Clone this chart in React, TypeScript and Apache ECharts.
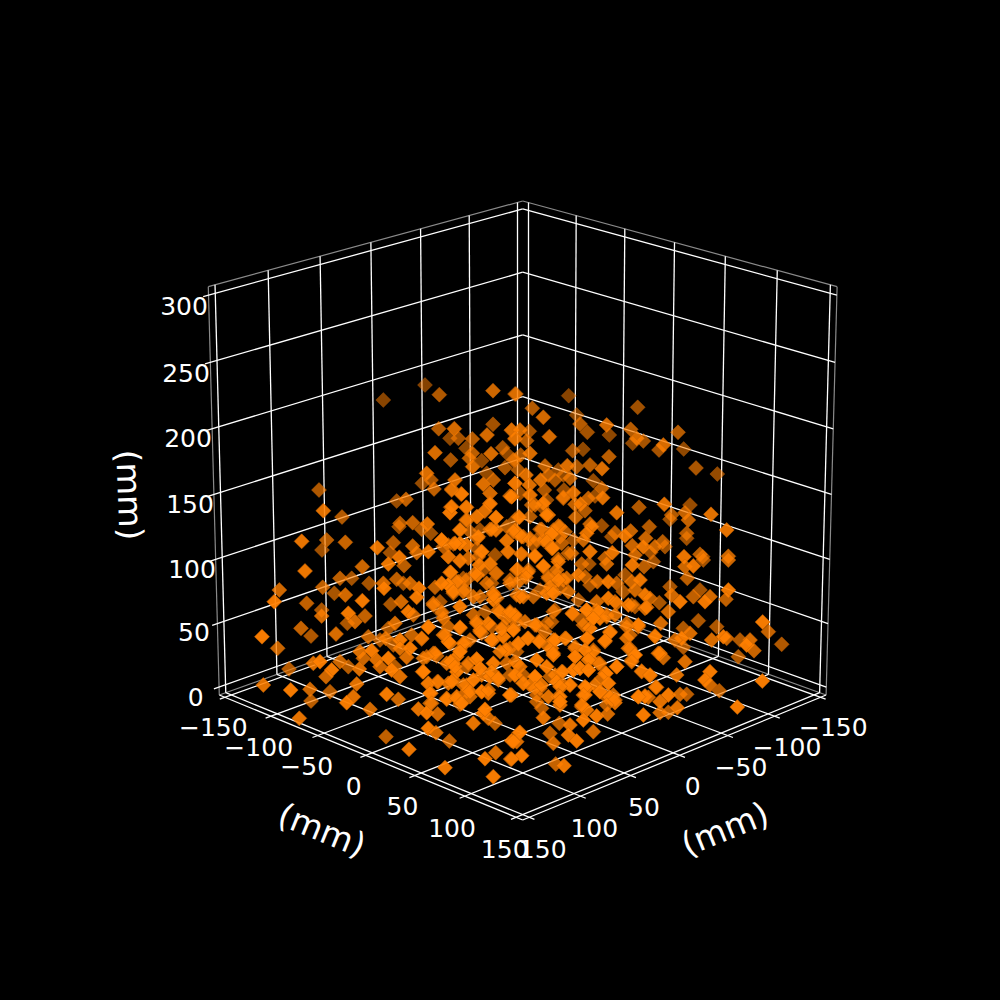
import React, { useEffect, useRef } from "react";
import * as echarts from "echarts";

// Scatter readings: projected marks, one list per inspected region.
const regionNW = [555,45,598,74,759,62,825,72,430,90,596,176,643,176,655,205,630,205,697,207,741,195,759,163,814,181,825,207,585,248,632,270,678,235,697,250,753,251,788,233,725,272,688,265,698,290,795,293,800,250,820,270,560,310,573,330,547,340,582,357,645,330,635,357,740,310,760,330,730,343,663,372,750,370,825,340,815,380,237,360,470,393,498,388,250,422,306,441,632,412,630,428,678,412,750,400,735,423,710,440,768,442,480,460,477,470,518,458,562,462,545,478,572,490,682,450,660,480,690,485,720,480,750,478,768,480,800,470,825,450,830,490,185,514,260,510,246,540,316,517,412,533,460,518,451,548,518,528,605,510,610,530,640,522,660,520,680,525,712,505,800,512,530,548,565,545,625,560,660,573,685,565,725,545,715,560,765,555,803,545,478,562];
const regionSW = [195,33,300,55,335,55,367,20,445,12,492,17,387,70,430,70,432,85,470,58,490,70,510,70,537,85,585,82,630,37,655,65,625,75,680,60,640,100,670,95,712,45,750,12,770,40,740,70,760,100,810,60,830,70,118,90,103,125,248,82,283,100,316,105,367,122,200,130,452,133,483,125,530,112,580,130,600,125,700,110,760,120,770,115,245,150,245,168,325,160,375,168,322,190,345,185,505,155,520,165,605,160,610,175,660,140,700,165,735,155,775,150,810,165,183,205,213,228,288,222,66,230,113,265,445,205,465,190,565,200,625,200,660,205,710,185,720,210,790,200,830,190,800,175,745,190,385,230,420,240,437,235,480,240,515,225,545,237,610,225,625,245,690,240,725,220,760,240,790,230,810,265,835,250,360,275,395,272,370,295,460,255,480,265,510,265,580,280,660,270,675,250,650,290,800,270,830,275,220,310,240,305,300,305,325,320,358,327,275,330,258,350,147,327,410,300,445,295,420,320,465,320,500,292,455,330,550,295,590,288,620,310,640,310,710,297,680,320,720,325,760,310,800,310,830,310,480,350,548,335,592,365,565,372,625,370,650,335,640,360,680,375,725,345,750,350,775,360,810,345,70,375,152,390,210,388,270,395,350,372,440,403,475,418,573,400,620,415,650,410,690,410,725,395,745,400,810,405,680,395,213,423,340,410,320,428,390,448,570,430,535,447,560,458,593,462,660,433,178,475,730,460,745,475,765,490,700,490,565,505,588,518,628,543,838,518,815,542,830,545,438,530,507,568,735,596,767,578,812,597,615,623,760,650];
const regionNE = [18,72,176,77,67,115,100,142,383,112,200,135,210,162,290,165,232,187,298,195,362,178,380,205,400,213,368,220,504,187,460,225,447,240,521,237,5,180,30,180,58,184,15,205,50,212,118,200,188,242,219,238,297,260,60,250,32,255,15,270,240,285,276,296,558,294,622,312,105,288,172,287,200,290,145,300,115,315,92,330,135,330,160,315,180,325,48,315,25,300,250,332,15,340,58,345,103,360,162,360,275,355,190,368,160,385,255,378,235,385,278,383,60,375,30,370,5,380,463,403,387,412,540,405,525,428,603,433,485,435,480,448,535,450,320,428,65,405,110,390,195,403,212,402,225,422,95,410,100,400,115,435,60,440,25,440,197,442,650,480,418,470,275,467,240,462,245,470,150,470,130,480,95,478,15,480,40,500,60,505,125,490,230,490,530,490,530,505,362,483,345,497,315,488,305,500,407,505,100,510,150,500,190,510,220,510,125,535,155,520,70,525,367,527,400,530,458,515,465,530,435,530,240,545,185,550,35,552,75,558,307,548,285,565,422,547,375,555,522,560,570,553,578,560,655,559];
const regionSE = [20,30,55,30,100,20,145,5,215,12,237,12,290,12,367,15,402,20,430,5,525,20,550,18,532,55,580,0,655,0,655,90,115,50,140,45,160,60,205,45,225,50,240,75,262,65,295,65,320,70,345,45,365,65,390,60,0,70,30,60,50,40,110,100,125,90,150,85,175,95,30,110,70,110,205,120,260,125,295,115,315,125,340,95,375,90,405,105,420,115,480,80,485,105,510,125,550,110,570,90,600,110,585,125,648,118,448,128,475,155,0,160,15,170,130,155,187,160,230,150,260,150,215,180,250,175,270,175,290,165,375,140,405,145,355,135,385,200,565,182,452,190,758,186,775,215,815,253,45,185,80,195,105,215,10,205,300,215,240,205,350,190,285,245,350,235,232,235,165,235,90,240,55,235,130,240,435,230,520,205,540,220,515,235,495,240,620,200,605,240,640,230,650,235,690,240,720,240,710,255,732,272,25,250,125,265,130,285,195,265,250,270,355,265,375,285,365,300,520,262,525,305,450,280,460,293,685,290,195,290,240,295,265,310,320,320,155,335,190,330,210,325,235,330,15,345,75,350,40,370,120,350,135,345,285,340,395,335,420,347,500,345,600,335,160,375,180,375,295,370,230,385,270,395,90,385,60,375,585,360,600,375,628,392,437,382,757,363,145,410,80,405,150,435,225,405,310,405,290,412,315,428,475,405,510,403,530,403,385,410,405,408,415,412,215,440,230,450,260,468,293,462,95,445,100,473,400,465,450,458,475,457,502,443,682,441,5,405,148,490,180,495,220,480,250,515,120,520,175,525,200,543,130,550,30,517,10,545,35,587,5,597,137,612,162,617];
const denseUpper = [65,12,35,0,150,10,210,18,150,42,133,63,80,52,30,68,35,50,78,90,112,80,168,83,238,82,270,15,310,40,285,45,320,75,370,22,60,120,155,118,115,140,220,125,300,118,355,108,335,132,375,125,25,165,60,160,45,160,5,150,110,175,200,152,245,140,270,148,290,150,320,155,338,175,385,190,205,185,243,192,285,198,125,185,25,200,60,212,118,225,150,222,130,240,105,250,310,228,355,208,168,250,232,238,32,247,265,245,70,265,50,275,25,285,258,262,325,265,350,240,40,305,75,300,155,280,380,265,5,280,230,315,300,300,330,290,355,270,120,320,160,315,250,320,340,310];
const denseLeft = [40,15,65,35,25,82,120,82,170,70,180,95,238,35,285,45,270,35,215,80,245,88,280,90,5,115,75,105,90,130,215,120,295,132,260,150,323,115,358,125,345,75,380,70,130,130,120,155,45,160,20,170,170,178,92,185,145,190,255,150,240,155,350,180,385,140,285,185,300,200,10,215,105,200,180,205,215,215,235,235,285,225,310,225,345,230,380,200,25,250,55,245,95,245,160,240,130,255,310,250,150,275,185,275,205,270,345,265,365,255,30,280,80,298,35,310,110,295,125,310,270,285,350,305,385,290,195,328];
const denseRight = [68,42,15,30,110,30,145,35,200,10,245,15,290,22,130,55,100,75,170,50,195,45,265,75,230,80,5,65,315,108,15,120,48,115,110,115,180,98,165,122,240,105,75,140,130,155,105,150,10,160,240,145,75,170,255,165,245,185,150,190,115,180,200,200,325,160,70,210,90,205,115,210,38,215,275,213,300,225,168,220,155,235,175,250,60,255,20,245,30,260,320,262,135,255,105,260,150,275,100,285,30,290,180,292,195,300,285,290,265,290,30,305,95,315,170,315,330,305];

const horizontalTicks = [-150, -100, -50, 0, 50, 100, 150];
const verticalTicks = [0, 50, 100, 150, 200, 250, 300];
const axisUnit = "(mm)";

const FONT = "DejaVu Sans";

// Camera of the box: perspective map from box fractions to the page.
const CX = 522.7, BACK_Y = 586, TOP_Y = 201, HALF = 303.4, SIDE_Y = 695, W = -0.064, WC = -0.03275;
function project(a: number, b: number, c: number): [number, number] {
  const s = 1 + W;
  const t = 1 + WC;
  const w = 1 + W * (a + b) + WC * c;
  const x = (HALF * s * (b - a)) / w + CX;
  const y = (BACK_Y + a * (SIDE_Y * s - BACK_Y) + b * (SIDE_Y * s - BACK_Y) + c * (TOP_Y * t - BACK_Y)) / w;
  return [x, y];
}
const hf = (v: number) => (v + 156.25) / 312.5;
const zf = (v: number) => (v + 6.25) / 312.5;
const seg = (p: [number, number, number], q: [number, number, number]) => ({
  coords: [project(p[0], p[1], p[2]), project(q[0], q[1], q[2])],
});

function marks(list: number[], ox: number, oy: number) {
  const out: [number, number][] = [];
  for (let i = 0; i < list.length; i += 2) out.push([ox + list[i] / 3, oy + list[i + 1] / 3]);
  return out;
}

const TICK = 1.016;
const gridSegs: any[] = [];
const edgeSegs: any[] = [];
for (const v of horizontalTicks) {
  const t = hf(v);
  gridSegs.push(seg([t, 0, 0], [t, TICK, 0])); // floor
  gridSegs.push(seg([0, t, 0], [TICK, t, 0]));
  gridSegs.push(seg([t, 0, 0], [t, 0, 1])); // left wall
  gridSegs.push(seg([0, t, 0], [0, t, 1])); // right wall
}
for (const v of verticalTicks) {
  const c = zf(v);
  gridSegs.push(seg([0, 0, c], [TICK, 0, c]));
  gridSegs.push(seg([0, 0, c], [0, 1, c]));
}
gridSegs.push(seg([1, 0, 0], [1, 1, 0]));
gridSegs.push(seg([0, 1, 0], [1, 1, 0]));
edgeSegs.push(seg([1, 0, 1], [0, 0, 1]));
edgeSegs.push(seg([0, 1, 1], [0, 0, 1]));
edgeSegs.push(seg([1, 0, 0], [0, 0, 0]));
edgeSegs.push(seg([0, 1, 0], [0, 0, 0]));
edgeSegs.push(seg([1, 0, 0], [1, 0, 1]));
edgeSegs.push(seg([0, 1, 0], [0, 1, 1]));

const label = (text: string, x: number, y: number, size: number, rot = 0) => ({
  type: "text",
  x,
  y,
  rotation: (rot * Math.PI) / 180,
  silent: true,
  style: { text, fill: "#fff", font: `${size}px "${FONT}"`, align: "center", verticalAlign: "middle" },
});

const leftTickPos: [number, number][] = [[213.3,727],[258.7,747],[306.7,766.7],[353.7,786],[402.4,806.7],[452,828],[504.7,849]];
const rightTickPos: [number, number][] = [[833.3,727],[787,747],[741,767],[692.7,786],[644,807],[594.3,828],[542.7,849]];
const zTickPos: [number, number][] = [[195.7,697],[194,632],[192,569],[190,504],[188,438],[186,373],[184,306]];
const tickText = (v: number) => String(v).replace("-", "\u2212");
const shadeSteps = [-0.14, 0.02, 0.14, -0.05];

export default function App() {
  const ref = useRef<HTMLDivElement>(null);
  useEffect(() => {
    document.body.style.margin = "0";
    document.body.style.background = "#000";
    const chart = echarts.init(ref.current!, undefined, { renderer: "svg" });
    const all = [
      ...marks(regionNW, 240, 370),
      ...marks(regionNE, 510, 370),
      ...marks(regionSW, 240, 560),
      ...marks(regionSE, 510, 560),
      ...marks(denseUpper, 440, 490),
      ...marks(denseLeft, 420, 600),
      ...marks(denseRight, 550, 600),
    ];
    const lineBase = { type: "lines", coordinateSystem: "cartesian2d", silent: true, polyline: false, symbol: "none" };
    chart.setOption({
      animation: false,
      backgroundColor: "#000",
      grid: { left: 0, top: 0, width: 1000, height: 1000 },
      xAxis: { type: "value", min: 0, max: 1000, show: false },
      yAxis: { type: "value", min: 0, max: 1000, inverse: true, show: false },
      series: [
        { ...lineBase, data: edgeSegs, lineStyle: { color: "#8a8a8a", width: 1.2, opacity: 1 }, z: 1 },
        { ...lineBase, data: gridSegs, lineStyle: { color: "#fff", width: 1.3, opacity: 1 }, z: 2 },
        {
          type: "scatter",
          symbol: "diamond",
          symbolSize: 15,
          silent: true,
          z: 3,
          data: all.map((p, i) => ({
            value: p,
            itemStyle: {
              color: "#ff7f00",
              borderColor: "#c46200",
              borderWidth: 0.6,
              opacity: Math.min(0.96, 0.66 + (0.26 * (p[1] - 380)) / 400 + shadeSteps[i % 4]),
            },
          })),
        },
      ],
      graphic: [
        ...horizontalTicks.map((v, i) => label(tickText(v), leftTickPos[i][0], leftTickPos[i][1], 25)),
        ...horizontalTicks.map((v, i) => label(tickText(v), rightTickPos[i][0], rightTickPos[i][1], 25)),
        ...verticalTicks.map((v, i) => label(tickText(v), zTickPos[i][0], zTickPos[i][1], 25)),
        label(axisUnit, 322, 830, 33.3, -22),
        label(axisUnit, 725, 829, 33.3, 22),
        label(axisUnit, 129.5, 495, 33.3, -88),
      ],
    });
    return () => chart.dispose();
  }, []);
  return <div ref={ref} style={{ width: 1000, height: 1000 }} />;
}
